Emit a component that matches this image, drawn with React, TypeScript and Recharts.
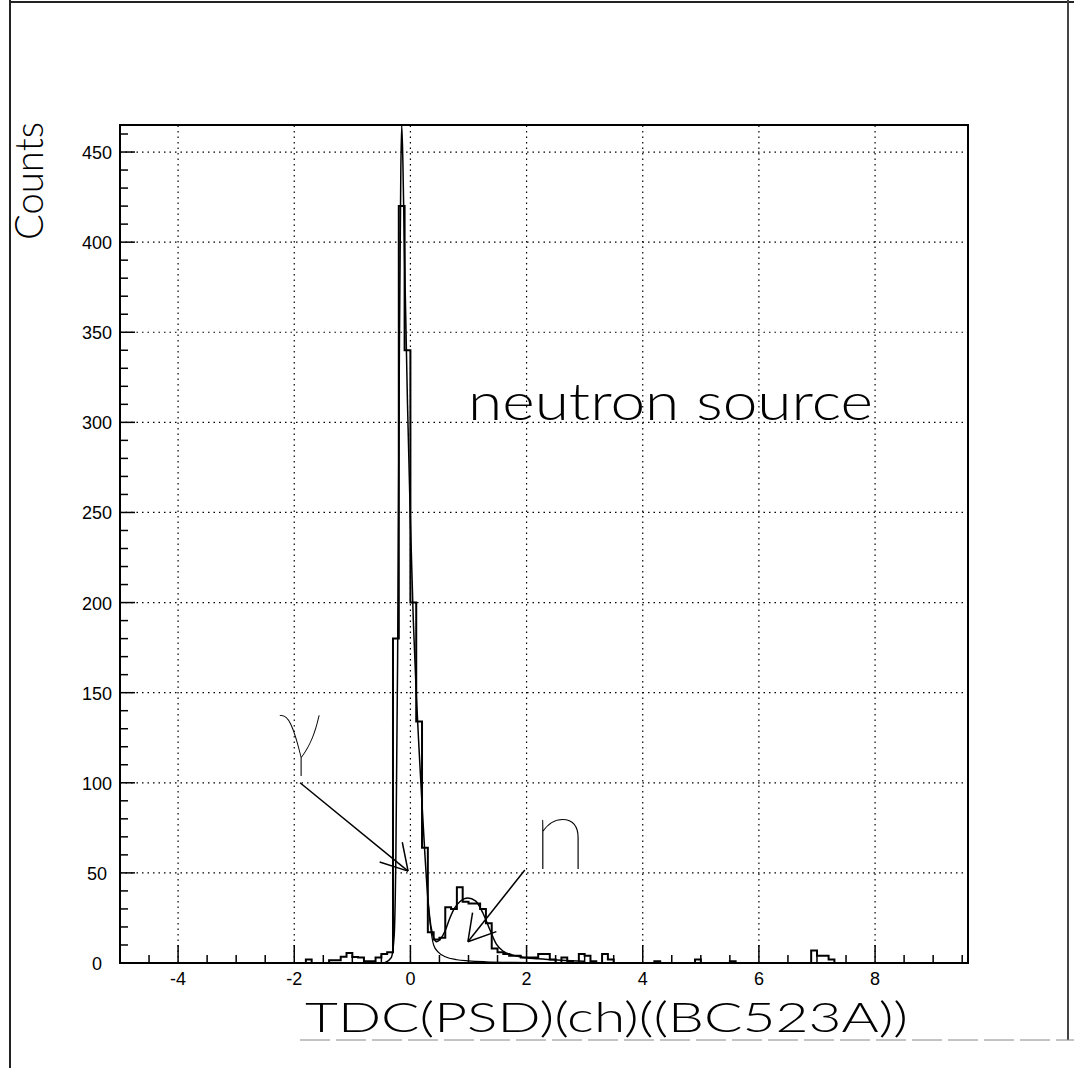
import { ComposedChart, Line, XAxis, YAxis, ReferenceLine, ReferenceArea } from "recharts"

// histogram bins (left edge, width 0.1) that hold counts; every other bin is empty
const binLeft = [-1.8, -1.4, -1.3, -1.2, -1.1, -1.0, -0.9, -0.8, -0.7, -0.6, -0.5, -0.4, -0.3, -0.2, -0.1, 0.0, 0.1, 0.2, 0.3, 0.4, 0.5, 0.6, 0.7, 0.8, 0.9, 1.0, 1.1, 1.2, 1.3, 1.4, 1.5, 1.6, 1.7, 1.8, 1.9, 2.0, 2.1, 2.2, 2.3, 2.4, 2.6, 2.7, 2.9, 3.0, 3.1, 3.3, 3.4, 4.2, 4.9, 5.5, 6.9, 7.0, 7.1, 7.2]
const binCount = [2, 1.5, 1.5, 3.5, 5.5, 3.3, 3, 1, 1, 3, 5, 6, 180, 420, 340, 200, 134, 64, 17, 13, 14, 31, 30, 42, 34, 33, 33, 30, 22, 8, 6, 5, 4, 4, 3, 3, 3, 5, 5, 2, 3, 1, 5, 4, 1, 5, 2, 1, 2, 1, 7, 4, 4, 2]
const binWidth = 0.1

// fitted curve (gamma peak + neutron bump)
const fitX = [-0.45, -0.33, -0.28, -0.25, -0.22, -0.19, -0.165, -0.15, -0.13, -0.1, -0.05, 0, 0.05, 0.1, 0.15, 0.2, 0.25, 0.3, 0.35, 0.4, 0.45, 0.51, 0.6, 0.68, 0.76, 0.85, 0.99, 1.12, 1.25, 1.37, 1.48, 1.6, 1.75, 1.9, 2.2, 2.6, 3.0]
const fitY = [0, 3, 15, 60, 170, 340, 440, 465, 445, 390, 310, 245, 190, 150, 118, 88, 60, 36, 21, 14, 11.8, 13, 18, 25, 30.5, 34, 36, 34.5, 27.6, 18.3, 10.5, 6.5, 4.5, 3.3, 2.3, 1.5, 1]

// gamma component alone, past the split
const tailX = [0.3, 0.35, 0.4, 0.48, 0.6, 0.8, 1.0, 1.3, 1.8, 2.3]
const tailY = [36, 19, 10, 6, 3.5, 1.8, 1.2, 0.7, 0.3, 0.1]

const xTicks = [-4.5, -4, -3.5, -3, -2.5, -2, -1.5, -1, -0.5, 0, 0.5, 1, 1.5, 2, 2.5, 3, 3.5, 4, 4.5, 5, 5.5, 6, 6.5, 7, 7.5, 8, 8.5, 9, 9.5]
const xMajor = [-4, -2, 0, 2, 4, 6, 8]
const yTicks = [0, 10, 20, 30, 40, 50, 60, 70, 80, 90, 100, 110, 120, 130, 140, 150, 160, 170, 180, 190, 200, 210, 220, 230, 240, 250, 260, 270, 280, 290, 300, 310, 320, 330, 340, 350, 360, 370, 380, 390, 400, 410, 420, 430, 440, 450, 460]
const yMajor = [0, 50, 100, 150, 200, 250, 300, 350, 400, 450]

const X_DOMAIN: [number, number] = [-5, 9.6]
const Y_DOMAIN: [number, number] = [0, 465]

// annotation arrows, in data units
const gammaArrow = [
  [{ x: -1.9, y: 100 }, { x: -0.04, y: 51 }],
  [{ x: -0.53, y: 56 }, { x: -0.04, y: 51 }],
  [{ x: -0.14, y: 67 }, { x: -0.04, y: 51 }],
]
const neutronArrow = [
  [{ x: 1.97, y: 51.6 }, { x: 0.99, y: 11.8 }],
  [{ x: 1.07, y: 28 }, { x: 0.99, y: 11.8 }],
  [{ x: 1.48, y: 17.4 }, { x: 0.99, y: 11.8 }],
]

const histPoints = (() => {
  const pts: { x: number; y: number }[] = [{ x: X_DOMAIN[0], y: 0 }]
  binLeft.forEach((left, i) => {
    pts.push({ x: left, y: binCount[i] })
    const right = left + binWidth
    const next = binLeft[i + 1]
    if (next === undefined || Math.abs(next - right) > 1e-6) pts.push({ x: right, y: 0 })
  })
  pts.push({ x: X_DOMAIN[1], y: 0 })
  return pts
})()

const fitPoints = fitX.map((x, i) => ({ x, y: fitY[i] }))
const tailPoints = tailX.map((x, i) => ({ x, y: tailY[i] }))

const tickFont = "'Liberation Sans', Arial, sans-serif"
const titleFont = "Lato, 'DejaVu Sans', sans-serif"

const XTick = (props: any) => {
  const { x, y, payload } = props
  const major = xMajor.includes(payload.value)
  return (
    <g>
      <line x1={x} y1={y} x2={x} y2={y - (major ? 18 : 8)} stroke="#000" strokeWidth={1.5} />
      {major && (
        <text x={x} y={y + 22} textAnchor="middle" fontSize={18} fontFamily={tickFont} fill="#000">
          {String(payload.value)}
        </text>
      )}
    </g>
  )
}

const YTick = (props: any) => {
  const { x, y, payload } = props
  const major = yMajor.includes(payload.value)
  return (
    <g>
      <line x1={x} y1={y} x2={x + (major ? 15 : 8)} y2={y} stroke="#000" strokeWidth={1.5} />
      {major && (
        <text x={x - 23} y={y + 7} textAnchor="middle" fontSize={18} fontFamily={tickFont} fill="#000">
          {String(payload.value)}
        </text>
      )}
    </g>
  )
}

export default function App() {
  const W = 1074
  const H = 1068
  return (
    <div style={{ position: "absolute", left: 0, top: 0, width: W, height: H, background: "#fff", overflow: "hidden" }}>
      <ComposedChart width={W} height={H} margin={{ top: 125, right: 106, bottom: 65, left: 60 }}>
        <XAxis
          type="number"
          dataKey="x"
          domain={X_DOMAIN}
          ticks={xTicks}
          allowDataOverflow
          interval={0}
          height={40}
          axisLine={false}
          tickLine={false}
          tickSize={0}
          tickMargin={0}
          tick={<XTick />}
        />
        <YAxis
          type="number"
          dataKey="y"
          domain={Y_DOMAIN}
          ticks={yTicks}
          allowDataOverflow
          interval={0}
          width={60}
          axisLine={false}
          tickLine={false}
          tickSize={0}
          tickMargin={0}
          tick={<YTick />}
        />
        {xMajor.map((v) => (
          <ReferenceLine key={"gx" + v} x={v} stroke="#000" strokeWidth={1.2} strokeDasharray="1.5 4" />
        ))}
        {yMajor.filter((v) => v > 0).map((v) => (
          <ReferenceLine key={"gy" + v} y={v} stroke="#000" strokeWidth={1.2} strokeDasharray="1.5 4" />
        ))}
        <ReferenceArea x1={X_DOMAIN[0]} x2={X_DOMAIN[1]} y1={Y_DOMAIN[0]} y2={Y_DOMAIN[1]} fill="none" fillOpacity={0} stroke="#000" strokeWidth={2} />
        <Line data={histPoints} dataKey="y" type="stepAfter" stroke="#000" strokeWidth={2} dot={false} isAnimationActive={false} />
        <Line data={fitPoints} dataKey="y" type="monotone" stroke="#000" strokeWidth={1.5} dot={false} isAnimationActive={false} />
        <Line data={tailPoints} dataKey="y" type="monotone" stroke="#000" strokeWidth={1.2} dot={false} isAnimationActive={false} />
        {[...gammaArrow, ...neutronArrow].map((seg, i) => (
          <ReferenceLine key={"arrow" + i} segment={seg} stroke="#000" strokeWidth={1.5} />
        ))}
      </ComposedChart>

      <svg width={W} height={H} style={{ position: "absolute", left: 0, top: 0, pointerEvents: "none" }}>
        {/* scanned page edges */}
        <line x1={10} y1={0} x2={10} y2={H} stroke="#222" strokeWidth={2} />
        <line x1={10} y1={2} x2={W} y2={2} stroke="#222" strokeWidth={2} />
        <line x1={1068} y1={0} x2={1068} y2={1040} stroke="#444" strokeWidth={2} />
        <line x1={300} y1={1040} x2={W} y2={1040} stroke="#888" strokeWidth={1} strokeDasharray="30 6" />

        <text x={43} y={181} transform="rotate(-90, 43, 181)" textAnchor="middle" fontSize={40} fontWeight={300} fontFamily={titleFont} fill="#000" textLength={118} lengthAdjust="spacingAndGlyphs">
          Counts
        </text>
        <text x={305} y={1032} fontSize={42} fontWeight={300} fontFamily={titleFont} fill="#000" textLength={603} lengthAdjust="spacingAndGlyphs">
          TDC(PSD)(ch)((BC523A))
        </text>
        <text x={468} y={420} fontSize={52} fontWeight={300} fontFamily={titleFont} fill="#000" textLength={405} lengthAdjust="spacingAndGlyphs">
          neutron source
        </text>
        <text x={300} y={760} textAnchor="middle" fontSize={90} fontWeight={200} fontFamily={titleFont} fill="#000">
          γ
        </text>
        <text x={533} y={869} fontSize={100} fontWeight={200} fontFamily={titleFont} fill="#000">
          n
        </text>
      </svg>
    </div>
  )
}
